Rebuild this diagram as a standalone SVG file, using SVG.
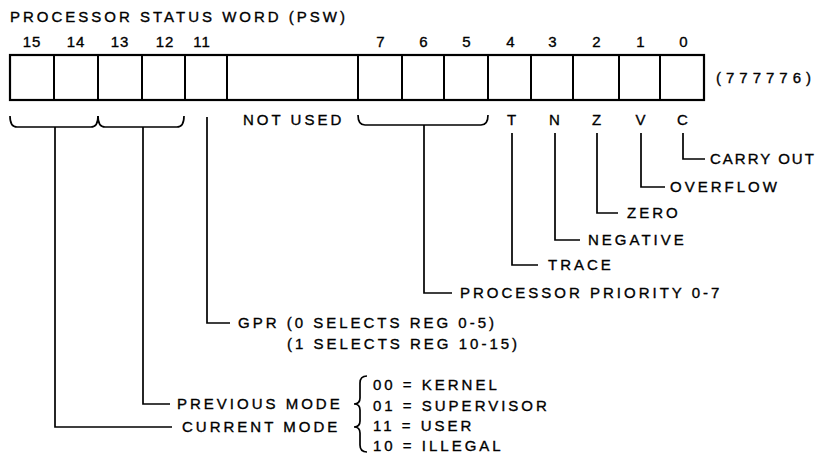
<svg xmlns="http://www.w3.org/2000/svg" width="816" height="454" viewBox="0 0 816 454">
<style>
text{font-family:"Liberation Sans",Arial,sans-serif;font-size:15px;fill:#000;stroke:#000;stroke-width:0.35;letter-spacing:3px}
.num{letter-spacing:1px;text-anchor:middle}
.mid{text-anchor:middle}
.box{fill:#fff;stroke:#000;stroke-width:2.2}
.div{stroke:#000;stroke-width:2}
.ln{fill:none;stroke:#000;stroke-width:1.7;stroke-linejoin:miter}
</style>
<rect width="816" height="454" fill="#fff"/>
<g id="title"><text x="10" y="22">PROCESSOR STATUS WORD (PSW)</text></g>
<g id="register">
<rect class="box" x="10" y="55" width="694" height="45"/>
<path class="div" d="M54,55V100M98,55V100M142,55V100M185,55V100M227,55V100M358,55V100M402,55V100M444,55V100M488,55V100M531,55V100M573,55V100M619,55V100M660,55V100"/>
<text class="num" x="32" y="47">15</text>
<text class="num" x="76" y="47">14</text>
<text class="num" x="120" y="47">13</text>
<text class="num" x="165" y="47">12</text>
<text class="num" x="202" y="47">11</text>
<text class="num" x="381" y="47">7</text>
<text class="num" x="424" y="47">6</text>
<text class="num" x="467" y="47">5</text>
<text class="num" x="511" y="47">4</text>
<text class="num" x="553" y="47">3</text>
<text class="num" x="597" y="47">2</text>
<text class="num" x="641" y="47">1</text>
<text class="num" x="684" y="47">0</text>
</g>
<g id="address"><text x="716" y="83" style="letter-spacing:5px">(777776)</text></g>
<g id="not-used"><text x="243" y="125">NOT USED</text></g>
<g id="flag-letters">
<text class="mid" x="513" y="125">T</text>
<text class="mid" x="556" y="125">N</text>
<text class="mid" x="598" y="125">Z</text>
<text class="mid" x="642" y="125">V</text>
<text class="mid" x="684" y="125">C</text>
</g>
<g id="carry-out"><text x="710" y="164" style="letter-spacing:2px">CARRY OUT</text></g>
<g id="overflow"><text x="670" y="192">OVERFLOW</text></g>
<g id="zero"><text x="627" y="218">ZERO</text></g>
<g id="negative"><text x="588" y="245">NEGATIVE</text></g>
<g id="trace"><text x="548" y="270">TRACE</text></g>
<g id="priority"><text x="460" y="298">PROCESSOR PRIORITY 0-7</text></g>
<g id="gpr">
<text x="238" y="328">GPR (0 SELECTS REG 0-5)</text>
<text x="287" y="349">(1 SELECTS REG 10-15)</text>
</g>
<g id="previous-mode"><text x="177" y="409">PREVIOUS MODE</text></g>
<g id="current-mode"><text x="182" y="432">CURRENT MODE</text></g>
<g id="mode-values">
<path class="ln" d="M367,376Q360,376 360,383V398Q360,404 354,404Q360,404 360,410V421Q360,427 354,427Q360,427 360,433V445Q360,452 367,452"/>
<text x="373" y="390">00 = KERNEL</text>
<text x="373" y="411">01 = SUPERVISOR</text>
<text x="373" y="431">11 = USER</text>
<text x="373" y="451">10 = ILLEGAL</text>
</g>
<g id="connectors">
<path class="ln" d="M10,116Q10,127 17,127H91Q98,127 98,116"/>
<path class="ln" d="M98,116Q98,127 105,127H177Q184,127 184,116"/>
<path class="ln" d="M358,115Q358,125 365,125H481Q488,125 488,115"/>
<path class="ln" d="M55,127V427H172"/>
<path class="ln" d="M143,127V404H170"/>
<path class="ln" d="M207,117V323H230"/>
<path class="ln" d="M424,125V293H452"/>
<path class="ln" d="M512,133V265H538"/>
<path class="ln" d="M555,133V240H580"/>
<path class="ln" d="M597,133V213H618"/>
<path class="ln" d="M641,133V187H665"/>
<path class="ln" d="M683,133V159H705"/>
</g>
</svg>
